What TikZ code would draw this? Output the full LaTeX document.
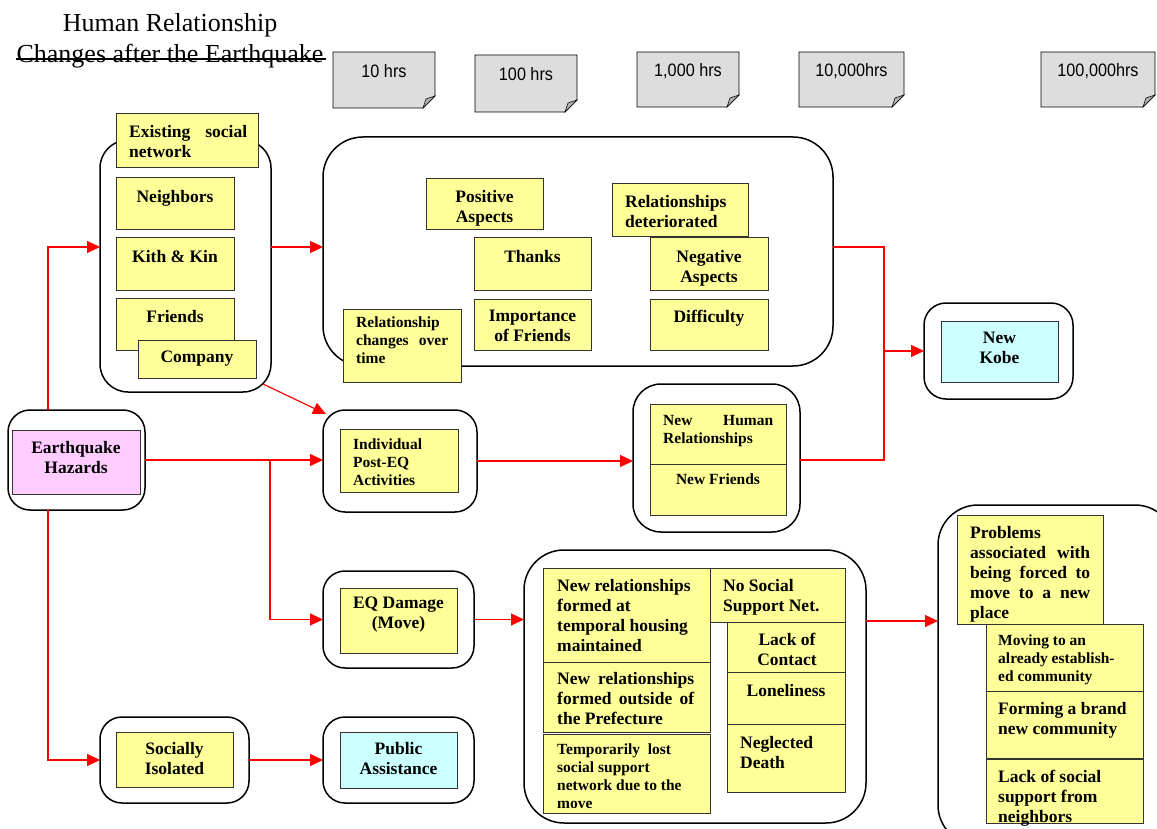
\documentclass[tikz,border=0pt]{standalone}
\usepackage{fontspec}
\setmainfont{Liberation Serif}
\newfontfamily\notefont[FakeStretch=0.9]{Liberation Sans}
\usetikzlibrary{arrows.meta,calc}
\definecolor{yel}{HTML}{FFFF99}
\definecolor{pnk}{HTML}{FFCCFF}
\definecolor{cyn}{HTML}{CCFFFF}
\definecolor{notegray}{HTML}{DDDDDD}
\definecolor{foldgray}{HTML}{B2B2B2}
\hyphenpenalty=10000
\exhyphenpenalty=10000
\newcommand\nohy{\hyphenpenalty=10000\relax}
\tikzset{
  outer/.style={draw=black, line width=1.5pt, fill=white, rounded corners=#1, inner sep=0pt, outer sep=0pt},
  outer/.default=22pt,
  ybox/.style={draw=black!80, line width=1pt, fill=yel, inner sep=0pt, outer sep=0pt},
  pbox/.style={ybox, fill=pnk},
  cbox/.style={ybox, fill=cyn},
  big/.style={font={\bfseries\fontsize{17.5}{20}\selectfont\nohy}, inner sep=0pt, align=center},
  sm/.style={font={\bfseries\fontsize{15.5}{18}\selectfont\nohy}, inner sep=0pt, align=left},
  ttl/.style={font=\fontsize{26}{30}\selectfont, inner sep=0pt},
  notebody/.style={draw=black, line width=0.8pt, fill=notegray},
  notefold/.style={draw=black, line width=0.6pt, fill=foldgray},
  notetext/.style={font=\notefont\fontsize{18}{20}\selectfont, inner sep=0pt},
  rl/.style={red, line width=1.2pt},
  arr/.style={rl, -{Triangle[length=13pt,width=12pt]}},
}
\newcommand\bx[6]{\node[#6, minimum width={#4-#2}, minimum height={#5-#3}] (#1) at ({(#2+#4)/2},{(#3+#5)/2}) {};}
\newcommand\stickynote[6]{%
  \draw[notebody] (#2,#3) -- (#4,#3) -- (#4,{#5-12}) -- ({#4-12},#5) -- (#2,#5) -- cycle;
  \draw[notefold] (#4,{#5-12}) -- ({#4-12},#5) -- ({#4-9},{#5-9}) -- cycle;
  \node[notetext] (#1) at ({(#2+#4)/2},{#3+19}) {#6};}
\begin{document}
\begin{tikzpicture}[x=1pt,y=-1pt]
\useasboundingbox (0,0) rectangle (1157,829);
% title
\node[ttl, anchor=base] (t1) at (170,32) {Human Relationship};
\node[ttl, anchor=base] (t2) at (170,63) {Changes after the Earthquake};
\draw[line width=1.1pt] (t2.west |- 0,59) -- ([xshift=2pt]t2.east |- 0,59);
% time notes
\stickynote{h1}{333}{52}{435}{108}{10 hrs}
\stickynote{h2}{475}{55}{577}{112}{100 hrs}
\stickynote{h3}{637}{52}{739}{107}{1,000 hrs}
\stickynote{h4}{799}{52}{904}{107}{10,000hrs}
\stickynote{h5}{1041}{52}{1155}{107}{100,000hrs}
% existing social network
\bx{exo}{100}{140}{271}{392}{outer=28pt}
\bx{ex}{116}{114}{258}{168}{ybox}
\node[big, text width=118pt, align=justify, anchor=north west] (ext) at (129,125) {Existing social network};
\bx{nb}{116}{178}{234}{230}{ybox}
\node[big, anchor=north] (nbt) at (175,190) {Neighbors};
\bx{kk}{116}{238}{234}{290}{ybox}
\node[big, anchor=north] (kkt) at (175,250) {Kith \& Kin};
\bx{fr}{116}{298}{234}{350}{ybox}
\node[big, anchor=north] (frt) at (175,310) {Friends};
\bx{co}{138}{340}{256}{378}{ybox}
\node[big] (cot) at (197,359) {Company};
% top big box
\bx{topo}{323}{137}{833}{366}{outer=40pt}
\bx{pa}{426}{179}{543}{230}{ybox}
\node[big, anchor=north] (pat) at (484.5,190) {Positive\\Aspects};
\bx{th}{474}{238}{591}{290}{ybox}
\node[big, anchor=north] (tht) at (532.5,250) {Thanks};
\bx{imp}{474}{299}{591}{350}{ybox}
\node[big, anchor=north] (impt) at (532.5,310) {Importance\\of Friends};
\bx{rd}{612}{184}{748}{237}{ybox}
\node[big, align=left, anchor=north west] (rdt) at (625,195) {Relationships\\deteriorated};
\bx{na}{650}{238}{768}{290}{ybox}
\node[big, anchor=north] (nat) at (709,250) {Negative\\Aspects};
\bx{di}{650}{299}{768}{350}{ybox}
\node[big, anchor=north] (dit) at (709,310) {Difficulty};
\bx{rc}{343}{309}{461}{382}{ybox}
\node[sm, text width=92pt, align=justify, anchor=north west] (rct) at (356,317) {Relationship changes over time};
% earthquake hazards
\bx{eqo}{8}{410}{145}{510}{outer=22pt}
\bx{eq}{12}{430}{140}{494}{pbox}
\node[big] (eqt) at (76,458) {Earthquake\\Hazards};
% individual
\bx{indo}{323}{410}{477}{512}{outer=22pt}
\bx{ind}{340}{429}{458}{492}{ybox}
\node[sm, anchor=north west] (indt) at (353,439) {Individual\\Post-EQ\\Activities};
% new human relationships
\bx{nho}{633}{384}{800}{532}{outer=28pt}
\bx{nh1}{650}{404}{786}{464}{ybox}
\bx{nh2}{650}{464}{786}{515}{ybox}
\node[sm, text width=110pt, align=justify, anchor=north west] (nh1t) at (663,415) {New Human Relationships};
\node[sm, anchor=north] (nh2t) at (718,474) {New Friends};
% new kobe
\bx{kobo}{924}{303}{1073}{399}{outer=22pt}
\bx{kob}{941}{321}{1058}{382}{cbox}
\node[big] (kobt) at (999.5,348) {New\\Kobe};
% EQ damage
\bx{dmo}{323}{571}{474}{668}{outer=22pt}
\bx{dm}{340}{588}{457}{653}{ybox}
\node[big] (dmt) at (398.5,615) {EQ Damage\\(Move)};
% socially isolated / public assistance
\bx{soco}{100}{717}{249}{803}{outer=22pt}
\bx{soc}{116}{732}{233}{787}{ybox}
\node[big] (soct) at (174.5,759) {Socially\\Isolated};
\bx{pubo}{323}{717}{474}{803}{outer=22pt}
\bx{pub}{340}{732}{457}{788}{cbox}
\node[big] (pubt) at (398.5,759) {Public\\Assistance};
% bottom middle
\bx{bmo}{524}{550}{866}{823}{outer=40pt}
\bx{b1}{543}{568}{710}{662}{ybox}
\node[big, align=left, anchor=north west] (b1t) at (557,579) {New relationships\\formed at\\temporal housing\\maintained};
\bx{b2}{543}{662}{710}{732}{ybox}
\node[big, text width=137pt, align=justify, anchor=north west] (b2t) at (557,672) {New relationships formed outside of the Prefecture};
\bx{b3}{543}{734}{710}{813}{ybox}
\node[sm, anchor=north west] (b3t) at (557,744) {Temporarily\ \ lost\\social support\\network due to the\\move};
\bx{b4}{710}{568}{845}{622}{ybox}
\node[big, align=left, anchor=north west] (b4t) at (723,579) {No Social\\Support Net.};
\bx{b5}{727}{622}{845}{672}{ybox}
\node[big, anchor=north] (b5t) at (787,633) {Lack of\\Contact};
\bx{b6}{727}{672}{845}{724}{ybox}
\node[big, anchor=north] (b6t) at (786,684) {Loneliness};
\bx{b7}{727}{724}{845}{792}{ybox}
\node[big, align=left, anchor=north west] (b7t) at (740,736) {Neglected\\Death};
% right bottom
\bx{rbo}{938}{505}{1175}{845}{outer=40pt}
\bx{r1}{957}{515}{1103}{624}{ybox}
\node[big, text width=120pt, align=justify, anchor=north west] (r1t) at (970,526) {Problems associated with being forced to move to a new place};
\bx{r2}{986}{624}{1143}{691}{ybox}
\node[sm, anchor=north west] (r2t) at (998,635) {Moving to an\\already establish-\\ed community};
\bx{r3}{986}{691}{1143}{758}{ybox}
\node[big, align=left, anchor=north west] (r3t) at (998,702) {Forming a brand\\new community};
\bx{r4}{986}{759}{1143}{823}{ybox}
\node[big, align=left, anchor=north west] (r4t) at (998,770) {Lack of social\\support from\\neighbors};
% connectors
\coordinate (jt) at (884,247);
\coordinate (jb) at (884,460);
\coordinate (br) at (270,460);
\draw[arr] ([xshift=-28.5pt]eqo.north) |- ([yshift=19pt]exo.west);
\draw[arr] ([yshift=19pt]exo.east) -- ([yshift=19pt]exo.east -| topo.west);
\draw[arr] ([shift={(-8pt,8pt)}]exo.south east) -- ([shift={(3pt,-4pt)}]indo.north west);
\draw[arr] (eqo.east) -- (eqo.east -| indo.west);
\draw[arr] (br) |- (dmo.west);
\draw[arr] ([xshift=-28.5pt]eqo.south) |- (soco.west);
\draw[arr] (soco.east) -- (pubo.west);
\draw[arr] (indo.east) -- (indo.east -| nho.west);
\draw[rl] (topo.east |- jt) -- (jt) -- (jb) -- (jb -| nho.east);
\draw[arr] (jt |- kobo.west) -- (kobo.west);
\draw[arr] (dmo.east) -- (dmo.east -| bmo.west);
\draw[arr] ([yshift=65.5pt]bmo.east) -- ([yshift=65.5pt]bmo.east -| rbo.west);
\end{tikzpicture}
\end{document}
